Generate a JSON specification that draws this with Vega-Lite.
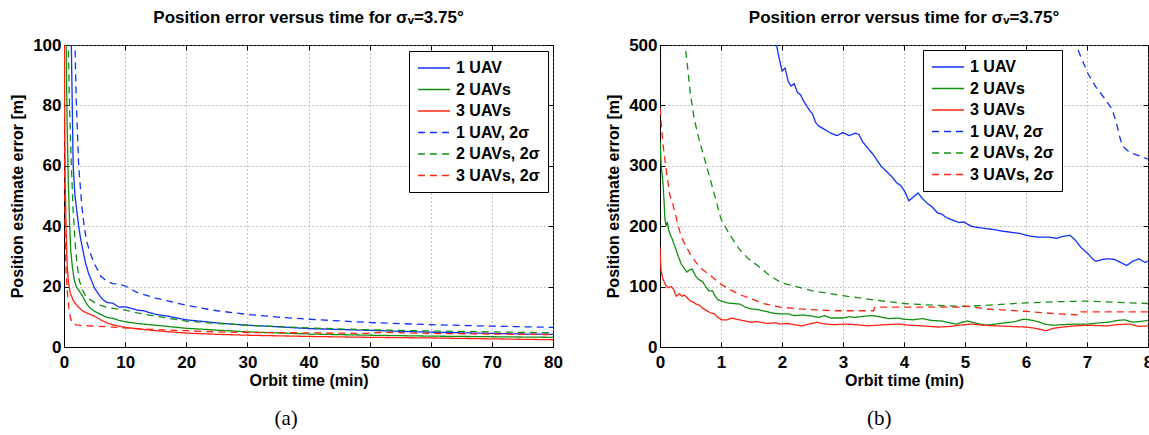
{
  "$schema": "https://vega.github.io/schema/vega-lite/v6.json",
  "background": "white",
  "padding": {"left": 9, "top": 8, "right": 0, "bottom": 0},
  "datasets": {
    "a": [
      {"series": "1 UAV", "t": 0.9, "e": 130}, {"series": "1 UAV", "t": 1.2, "e": 100}, {"series": "1 UAV", "t": 1.35, "e": 80}, {"series": "1 UAV", "t": 1.5, "e": 60}, {"series": "1 UAV", "t": 1.8, "e": 50}, {"series": "1 UAV", "t": 2.1, "e": 45}, {"series": "1 UAV", "t": 2.4, "e": 40}, {"series": "1 UAV", "t": 2.7, "e": 36}, {"series": "1 UAV", "t": 3.0, "e": 33}, {"series": "1 UAV", "t": 3.5, "e": 28}, {"series": "1 UAV", "t": 4.0, "e": 24.5}, {"series": "1 UAV", "t": 4.5, "e": 22}, {"series": "1 UAV", "t": 5.0, "e": 19.5}, {"series": "1 UAV", "t": 5.5, "e": 18}, {"series": "1 UAV", "t": 6, "e": 16.5}, {"series": "1 UAV", "t": 6.5, "e": 15.5}, {"series": "1 UAV", "t": 7, "e": 14.8}, {"series": "1 UAV", "t": 7.5, "e": 14.6}, {"series": "1 UAV", "t": 8, "e": 14.5}, {"series": "1 UAV", "t": 8.5, "e": 13.8}, {"series": "1 UAV", "t": 9, "e": 13.2}, {"series": "1 UAV", "t": 10, "e": 13.3}, {"series": "1 UAV", "t": 11, "e": 12.8}, {"series": "1 UAV", "t": 12, "e": 12.2}, {"series": "1 UAV", "t": 13, "e": 12}, {"series": "1 UAV", "t": 14, "e": 11.4}, {"series": "1 UAV", "t": 15, "e": 10.8}, {"series": "1 UAV", "t": 17, "e": 10.2}, {"series": "1 UAV", "t": 20, "e": 9.0}, {"series": "1 UAV", "t": 23, "e": 8.4}, {"series": "1 UAV", "t": 26, "e": 7.8}, {"series": "1 UAV", "t": 30, "e": 7.2}, {"series": "1 UAV", "t": 35, "e": 6.7}, {"series": "1 UAV", "t": 40, "e": 6.1}, {"series": "1 UAV", "t": 45, "e": 5.8}, {"series": "1 UAV", "t": 50, "e": 5.5}, {"series": "1 UAV", "t": 55, "e": 5.2}, {"series": "1 UAV", "t": 60, "e": 4.9}, {"series": "1 UAV", "t": 65, "e": 4.7}, {"series": "1 UAV", "t": 70, "e": 4.5}, {"series": "1 UAV", "t": 75, "e": 4.3}, {"series": "1 UAV", "t": 80, "e": 4.2},
      {"series": "2 UAVs", "t": 0.2, "e": 130}, {"series": "2 UAVs", "t": 0.35, "e": 100}, {"series": "2 UAVs", "t": 0.5, "e": 75}, {"series": "2 UAVs", "t": 0.7, "e": 55}, {"series": "2 UAVs", "t": 0.9, "e": 42}, {"series": "2 UAVs", "t": 1.1, "e": 32}, {"series": "2 UAVs", "t": 1.4, "e": 26}, {"series": "2 UAVs", "t": 1.7, "e": 22}, {"series": "2 UAVs", "t": 2.0, "e": 20}, {"series": "2 UAVs", "t": 2.5, "e": 18.5}, {"series": "2 UAVs", "t": 3, "e": 17}, {"series": "2 UAVs", "t": 3.5, "e": 15}, {"series": "2 UAVs", "t": 4, "e": 13.5}, {"series": "2 UAVs", "t": 4.5, "e": 12.5}, {"series": "2 UAVs", "t": 5, "e": 11.8}, {"series": "2 UAVs", "t": 6, "e": 10.8}, {"series": "2 UAVs", "t": 7, "e": 9.8}, {"series": "2 UAVs", "t": 8, "e": 9.5}, {"series": "2 UAVs", "t": 9, "e": 8.8}, {"series": "2 UAVs", "t": 10, "e": 8.4}, {"series": "2 UAVs", "t": 12, "e": 7.8}, {"series": "2 UAVs", "t": 15, "e": 7.2}, {"series": "2 UAVs", "t": 20, "e": 6.2}, {"series": "2 UAVs", "t": 25, "e": 5.6}, {"series": "2 UAVs", "t": 30, "e": 5.0}, {"series": "2 UAVs", "t": 40, "e": 4.3}, {"series": "2 UAVs", "t": 50, "e": 3.9}, {"series": "2 UAVs", "t": 60, "e": 3.6}, {"series": "2 UAVs", "t": 70, "e": 3.4}, {"series": "2 UAVs", "t": 80, "e": 3.2},
      {"series": "3 UAVs", "t": 0.0, "e": 130}, {"series": "3 UAVs", "t": 0.1, "e": 80}, {"series": "3 UAVs", "t": 0.2, "e": 55}, {"series": "3 UAVs", "t": 0.35, "e": 38}, {"series": "3 UAVs", "t": 0.5, "e": 28}, {"series": "3 UAVs", "t": 0.7, "e": 22}, {"series": "3 UAVs", "t": 1.0, "e": 18}, {"series": "3 UAVs", "t": 1.5, "e": 15.5}, {"series": "3 UAVs", "t": 2, "e": 14}, {"series": "3 UAVs", "t": 3, "e": 12}, {"series": "3 UAVs", "t": 4, "e": 11}, {"series": "3 UAVs", "t": 5, "e": 10.2}, {"series": "3 UAVs", "t": 6, "e": 9}, {"series": "3 UAVs", "t": 7, "e": 8}, {"series": "3 UAVs", "t": 8, "e": 7.3}, {"series": "3 UAVs", "t": 10, "e": 6.5}, {"series": "3 UAVs", "t": 12, "e": 6.0}, {"series": "3 UAVs", "t": 15, "e": 5.4}, {"series": "3 UAVs", "t": 20, "e": 4.6}, {"series": "3 UAVs", "t": 25, "e": 4.2}, {"series": "3 UAVs", "t": 30, "e": 3.9}, {"series": "3 UAVs", "t": 40, "e": 3.5}, {"series": "3 UAVs", "t": 50, "e": 3.2}, {"series": "3 UAVs", "t": 60, "e": 3.0}, {"series": "3 UAVs", "t": 70, "e": 2.7}, {"series": "3 UAVs", "t": 80, "e": 2.4},
      {"series": "1 UAV, 2σ", "t": 1.6, "e": 130}, {"series": "1 UAV, 2σ", "t": 1.8, "e": 100}, {"series": "1 UAV, 2σ", "t": 2.0, "e": 82}, {"series": "1 UAV, 2σ", "t": 2.4, "e": 60}, {"series": "1 UAV, 2σ", "t": 2.9, "e": 47}, {"series": "1 UAV, 2σ", "t": 3.3, "e": 40}, {"series": "1 UAV, 2σ", "t": 3.7, "e": 35}, {"series": "1 UAV, 2σ", "t": 4.0, "e": 33}, {"series": "1 UAV, 2σ", "t": 4.5, "e": 30}, {"series": "1 UAV, 2σ", "t": 5.0, "e": 27.5}, {"series": "1 UAV, 2σ", "t": 5.5, "e": 25.5}, {"series": "1 UAV, 2σ", "t": 6, "e": 23.5}, {"series": "1 UAV, 2σ", "t": 7, "e": 21.8}, {"series": "1 UAV, 2σ", "t": 8, "e": 21}, {"series": "1 UAV, 2σ", "t": 9, "e": 20.8}, {"series": "1 UAV, 2σ", "t": 10, "e": 20.2}, {"series": "1 UAV, 2σ", "t": 12, "e": 18}, {"series": "1 UAV, 2σ", "t": 15, "e": 16.2}, {"series": "1 UAV, 2σ", "t": 20, "e": 13.8}, {"series": "1 UAV, 2σ", "t": 25, "e": 12}, {"series": "1 UAV, 2σ", "t": 30, "e": 10.8}, {"series": "1 UAV, 2σ", "t": 35, "e": 9.9}, {"series": "1 UAV, 2σ", "t": 40, "e": 9.2}, {"series": "1 UAV, 2σ", "t": 50, "e": 8.1}, {"series": "1 UAV, 2σ", "t": 60, "e": 7.4}, {"series": "1 UAV, 2σ", "t": 70, "e": 6.9}, {"series": "1 UAV, 2σ", "t": 80, "e": 6.5},
      {"series": "2 UAVs, 2σ", "t": 0.5, "e": 130}, {"series": "2 UAVs, 2σ", "t": 0.7, "e": 100}, {"series": "2 UAVs, 2σ", "t": 0.9, "e": 80}, {"series": "2 UAVs, 2σ", "t": 1.2, "e": 60}, {"series": "2 UAVs, 2σ", "t": 1.5, "e": 45}, {"series": "2 UAVs, 2σ", "t": 1.8, "e": 35}, {"series": "2 UAVs, 2σ", "t": 2.1, "e": 28}, {"series": "2 UAVs, 2σ", "t": 2.5, "e": 22}, {"series": "2 UAVs, 2σ", "t": 3, "e": 19}, {"series": "2 UAVs, 2σ", "t": 3.5, "e": 17}, {"series": "2 UAVs, 2σ", "t": 4, "e": 16}, {"series": "2 UAVs, 2σ", "t": 5, "e": 14.8}, {"series": "2 UAVs, 2σ", "t": 6, "e": 13.8}, {"series": "2 UAVs, 2σ", "t": 7, "e": 13.2}, {"series": "2 UAVs, 2σ", "t": 8, "e": 12.8}, {"series": "2 UAVs, 2σ", "t": 10, "e": 12.2}, {"series": "2 UAVs, 2σ", "t": 12, "e": 11.3}, {"series": "2 UAVs, 2σ", "t": 15, "e": 10.2}, {"series": "2 UAVs, 2σ", "t": 20, "e": 8.6}, {"series": "2 UAVs, 2σ", "t": 25, "e": 7.8}, {"series": "2 UAVs, 2σ", "t": 30, "e": 7.2}, {"series": "2 UAVs, 2σ", "t": 40, "e": 6.3}, {"series": "2 UAVs, 2σ", "t": 50, "e": 5.7}, {"series": "2 UAVs, 2σ", "t": 60, "e": 5.3}, {"series": "2 UAVs, 2σ", "t": 70, "e": 5.0}, {"series": "2 UAVs, 2σ", "t": 80, "e": 4.7},
      {"series": "3 UAVs, 2σ", "t": 0.0, "e": 130}, {"series": "3 UAVs, 2σ", "t": 0.08, "e": 60}, {"series": "3 UAVs, 2σ", "t": 0.2, "e": 35}, {"series": "3 UAVs, 2σ", "t": 0.35, "e": 25}, {"series": "3 UAVs, 2σ", "t": 0.6, "e": 17}, {"series": "3 UAVs, 2σ", "t": 0.9, "e": 11}, {"series": "3 UAVs, 2σ", "t": 1.3, "e": 8}, {"series": "3 UAVs, 2σ", "t": 2, "e": 7.3}, {"series": "3 UAVs, 2σ", "t": 3, "e": 7.1}, {"series": "3 UAVs, 2σ", "t": 5, "e": 6.9}, {"series": "3 UAVs, 2σ", "t": 8, "e": 6.6}, {"series": "3 UAVs, 2σ", "t": 10, "e": 6.3}, {"series": "3 UAVs, 2σ", "t": 15, "e": 5.8}, {"series": "3 UAVs, 2σ", "t": 20, "e": 5.4}, {"series": "3 UAVs, 2σ", "t": 25, "e": 5.0}, {"series": "3 UAVs, 2σ", "t": 30, "e": 4.8}, {"series": "3 UAVs, 2σ", "t": 40, "e": 4.7}, {"series": "3 UAVs, 2σ", "t": 50, "e": 4.5}, {"series": "3 UAVs, 2σ", "t": 52, "e": 4.9}, {"series": "3 UAVs, 2σ", "t": 60, "e": 4.5}, {"series": "3 UAVs, 2σ", "t": 70, "e": 4.3}, {"series": "3 UAVs, 2σ", "t": 80, "e": 4.1}
    ],
    "b": [
      {"series": "1 UAV", "t": 1.9, "e": 505}, {"series": "1 UAV", "t": 1.95, "e": 480}, {"series": "1 UAV", "t": 2.0, "e": 457}, {"series": "1 UAV", "t": 2.05, "e": 462}, {"series": "1 UAV", "t": 2.1, "e": 440}, {"series": "1 UAV", "t": 2.15, "e": 432}, {"series": "1 UAV", "t": 2.2, "e": 436}, {"series": "1 UAV", "t": 2.25, "e": 422}, {"series": "1 UAV", "t": 2.3, "e": 418}, {"series": "1 UAV", "t": 2.35, "e": 408}, {"series": "1 UAV", "t": 2.4, "e": 400}, {"series": "1 UAV", "t": 2.45, "e": 392}, {"series": "1 UAV", "t": 2.5, "e": 386}, {"series": "1 UAV", "t": 2.55, "e": 372}, {"series": "1 UAV", "t": 2.6, "e": 366}, {"series": "1 UAV", "t": 2.7, "e": 360}, {"series": "1 UAV", "t": 2.8, "e": 354}, {"series": "1 UAV", "t": 2.9, "e": 350}, {"series": "1 UAV", "t": 3.0, "e": 355}, {"series": "1 UAV", "t": 3.1, "e": 350}, {"series": "1 UAV", "t": 3.2, "e": 354}, {"series": "1 UAV", "t": 3.26, "e": 352}, {"series": "1 UAV", "t": 3.32, "e": 340}, {"series": "1 UAV", "t": 3.4, "e": 330}, {"series": "1 UAV", "t": 3.5, "e": 318}, {"series": "1 UAV", "t": 3.62, "e": 300}, {"series": "1 UAV", "t": 3.7, "e": 292}, {"series": "1 UAV", "t": 3.8, "e": 282}, {"series": "1 UAV", "t": 3.88, "e": 272}, {"series": "1 UAV", "t": 3.95, "e": 267}, {"series": "1 UAV", "t": 4.02, "e": 256}, {"series": "1 UAV", "t": 4.08, "e": 242}, {"series": "1 UAV", "t": 4.15, "e": 248}, {"series": "1 UAV", "t": 4.23, "e": 255}, {"series": "1 UAV", "t": 4.3, "e": 246}, {"series": "1 UAV", "t": 4.38, "e": 238}, {"series": "1 UAV", "t": 4.46, "e": 232}, {"series": "1 UAV", "t": 4.55, "e": 222}, {"series": "1 UAV", "t": 4.62, "e": 220}, {"series": "1 UAV", "t": 4.7, "e": 214}, {"series": "1 UAV", "t": 4.8, "e": 210}, {"series": "1 UAV", "t": 4.9, "e": 206}, {"series": "1 UAV", "t": 4.98, "e": 207}, {"series": "1 UAV", "t": 5.1, "e": 200}, {"series": "1 UAV", "t": 5.2, "e": 198}, {"series": "1 UAV", "t": 5.35, "e": 196}, {"series": "1 UAV", "t": 5.5, "e": 194}, {"series": "1 UAV", "t": 5.6, "e": 192}, {"series": "1 UAV", "t": 5.75, "e": 190}, {"series": "1 UAV", "t": 5.9, "e": 188}, {"series": "1 UAV", "t": 6.0, "e": 185}, {"series": "1 UAV", "t": 6.1, "e": 183}, {"series": "1 UAV", "t": 6.2, "e": 182}, {"series": "1 UAV", "t": 6.36, "e": 182}, {"series": "1 UAV", "t": 6.5, "e": 180}, {"series": "1 UAV", "t": 6.6, "e": 183}, {"series": "1 UAV", "t": 6.72, "e": 185}, {"series": "1 UAV", "t": 6.8, "e": 178}, {"series": "1 UAV", "t": 6.9, "e": 165}, {"series": "1 UAV", "t": 7.02, "e": 154}, {"series": "1 UAV", "t": 7.1, "e": 145}, {"series": "1 UAV", "t": 7.15, "e": 142}, {"series": "1 UAV", "t": 7.25, "e": 145}, {"series": "1 UAV", "t": 7.35, "e": 146}, {"series": "1 UAV", "t": 7.45, "e": 145}, {"series": "1 UAV", "t": 7.55, "e": 140}, {"series": "1 UAV", "t": 7.65, "e": 135}, {"series": "1 UAV", "t": 7.75, "e": 142}, {"series": "1 UAV", "t": 7.85, "e": 146}, {"series": "1 UAV", "t": 7.95, "e": 140}, {"series": "1 UAV", "t": 8.0, "e": 142},
      {"series": "2 UAVs", "t": 0.0, "e": 340}, {"series": "2 UAVs", "t": 0.02, "e": 300}, {"series": "2 UAVs", "t": 0.04, "e": 280}, {"series": "2 UAVs", "t": 0.05, "e": 270}, {"series": "2 UAVs", "t": 0.07, "e": 235}, {"series": "2 UAVs", "t": 0.08, "e": 212}, {"series": "2 UAVs", "t": 0.1, "e": 200}, {"series": "2 UAVs", "t": 0.12, "e": 207}, {"series": "2 UAVs", "t": 0.14, "e": 195}, {"series": "2 UAVs", "t": 0.17, "e": 185}, {"series": "2 UAVs", "t": 0.2, "e": 179}, {"series": "2 UAVs", "t": 0.23, "e": 170}, {"series": "2 UAVs", "t": 0.26, "e": 162}, {"series": "2 UAVs", "t": 0.3, "e": 150}, {"series": "2 UAVs", "t": 0.35, "e": 137}, {"series": "2 UAVs", "t": 0.4, "e": 130}, {"series": "2 UAVs", "t": 0.44, "e": 124}, {"series": "2 UAVs", "t": 0.49, "e": 128}, {"series": "2 UAVs", "t": 0.53, "e": 129}, {"series": "2 UAVs", "t": 0.58, "e": 118}, {"series": "2 UAVs", "t": 0.63, "e": 112}, {"series": "2 UAVs", "t": 0.7, "e": 108}, {"series": "2 UAVs", "t": 0.75, "e": 100}, {"series": "2 UAVs", "t": 0.8, "e": 93}, {"series": "2 UAVs", "t": 0.86, "e": 93}, {"series": "2 UAVs", "t": 0.9, "e": 85}, {"series": "2 UAVs", "t": 0.95, "e": 78}, {"series": "2 UAVs", "t": 1.01, "e": 76}, {"series": "2 UAVs", "t": 1.1, "e": 73}, {"series": "2 UAVs", "t": 1.2, "e": 72}, {"series": "2 UAVs", "t": 1.31, "e": 71}, {"series": "2 UAVs", "t": 1.4, "e": 66}, {"series": "2 UAVs", "t": 1.5, "e": 63}, {"series": "2 UAVs", "t": 1.6, "e": 62}, {"series": "2 UAVs", "t": 1.73, "e": 59}, {"series": "2 UAVs", "t": 1.85, "e": 56}, {"series": "2 UAVs", "t": 1.97, "e": 55}, {"series": "2 UAVs", "t": 2.1, "e": 55}, {"series": "2 UAVs", "t": 2.2, "e": 52}, {"series": "2 UAVs", "t": 2.35, "e": 53}, {"series": "2 UAVs", "t": 2.5, "e": 51}, {"series": "2 UAVs", "t": 2.6, "e": 49}, {"series": "2 UAVs", "t": 2.7, "e": 52}, {"series": "2 UAVs", "t": 2.8, "e": 48}, {"series": "2 UAVs", "t": 3.0, "e": 48}, {"series": "2 UAVs", "t": 3.1, "e": 50}, {"series": "2 UAVs", "t": 3.2, "e": 49}, {"series": "2 UAVs", "t": 3.35, "e": 51}, {"series": "2 UAVs", "t": 3.48, "e": 52}, {"series": "2 UAVs", "t": 3.6, "e": 50}, {"series": "2 UAVs", "t": 3.75, "e": 47}, {"series": "2 UAVs", "t": 3.9, "e": 48}, {"series": "2 UAVs", "t": 4.0, "e": 46}, {"series": "2 UAVs", "t": 4.15, "e": 45}, {"series": "2 UAVs", "t": 4.3, "e": 47}, {"series": "2 UAVs", "t": 4.45, "e": 44}, {"series": "2 UAVs", "t": 4.62, "e": 43}, {"series": "2 UAVs", "t": 4.75, "e": 40}, {"series": "2 UAVs", "t": 4.86, "e": 38}, {"series": "2 UAVs", "t": 4.95, "e": 41}, {"series": "2 UAVs", "t": 5.04, "e": 43}, {"series": "2 UAVs", "t": 5.15, "e": 40}, {"series": "2 UAVs", "t": 5.25, "e": 38}, {"series": "2 UAVs", "t": 5.35, "e": 36}, {"series": "2 UAVs", "t": 5.5, "e": 38}, {"series": "2 UAVs", "t": 5.65, "e": 40}, {"series": "2 UAVs", "t": 5.82, "e": 42}, {"series": "2 UAVs", "t": 5.95, "e": 46}, {"series": "2 UAVs", "t": 6.06, "e": 45}, {"series": "2 UAVs", "t": 6.2, "e": 42}, {"series": "2 UAVs", "t": 6.3, "e": 38}, {"series": "2 UAVs", "t": 6.43, "e": 36}, {"series": "2 UAVs", "t": 6.6, "e": 37}, {"series": "2 UAVs", "t": 6.8, "e": 38}, {"series": "2 UAVs", "t": 7.02, "e": 38}, {"series": "2 UAVs", "t": 7.2, "e": 40}, {"series": "2 UAVs", "t": 7.35, "e": 41}, {"series": "2 UAVs", "t": 7.5, "e": 44}, {"series": "2 UAVs", "t": 7.62, "e": 45}, {"series": "2 UAVs", "t": 7.74, "e": 41}, {"series": "2 UAVs", "t": 7.85, "e": 42}, {"series": "2 UAVs", "t": 8.0, "e": 44},
      {"series": "3 UAVs", "t": 0.0, "e": 165}, {"series": "3 UAVs", "t": 0.01, "e": 140}, {"series": "3 UAVs", "t": 0.02, "e": 124}, {"series": "3 UAVs", "t": 0.05, "e": 112}, {"series": "3 UAVs", "t": 0.1, "e": 101}, {"series": "3 UAVs", "t": 0.14, "e": 98}, {"series": "3 UAVs", "t": 0.18, "e": 100}, {"series": "3 UAVs", "t": 0.22, "e": 96}, {"series": "3 UAVs", "t": 0.25, "e": 88}, {"series": "3 UAVs", "t": 0.27, "e": 84}, {"series": "3 UAVs", "t": 0.3, "e": 87}, {"series": "3 UAVs", "t": 0.32, "e": 88}, {"series": "3 UAVs", "t": 0.36, "e": 84}, {"series": "3 UAVs", "t": 0.4, "e": 86}, {"series": "3 UAVs", "t": 0.44, "e": 82}, {"series": "3 UAVs", "t": 0.5, "e": 76}, {"series": "3 UAVs", "t": 0.55, "e": 74}, {"series": "3 UAVs", "t": 0.59, "e": 71}, {"series": "3 UAVs", "t": 0.65, "e": 69}, {"series": "3 UAVs", "t": 0.7, "e": 64}, {"series": "3 UAVs", "t": 0.77, "e": 60}, {"series": "3 UAVs", "t": 0.82, "e": 57}, {"series": "3 UAVs", "t": 0.89, "e": 55}, {"series": "3 UAVs", "t": 0.95, "e": 49}, {"series": "3 UAVs", "t": 1.01, "e": 45}, {"series": "3 UAVs", "t": 1.1, "e": 45}, {"series": "3 UAVs", "t": 1.18, "e": 48}, {"series": "3 UAVs", "t": 1.25, "e": 46}, {"series": "3 UAVs", "t": 1.35, "e": 44}, {"series": "3 UAVs", "t": 1.49, "e": 41}, {"series": "3 UAVs", "t": 1.6, "e": 42}, {"series": "3 UAVs", "t": 1.75, "e": 39}, {"series": "3 UAVs", "t": 1.9, "e": 40}, {"series": "3 UAVs", "t": 1.97, "e": 38}, {"series": "3 UAVs", "t": 2.1, "e": 39}, {"series": "3 UAVs", "t": 2.2, "e": 37}, {"series": "3 UAVs", "t": 2.33, "e": 35}, {"series": "3 UAVs", "t": 2.45, "e": 38}, {"series": "3 UAVs", "t": 2.57, "e": 41}, {"series": "3 UAVs", "t": 2.7, "e": 38}, {"series": "3 UAVs", "t": 2.85, "e": 37}, {"series": "3 UAVs", "t": 3.05, "e": 38}, {"series": "3 UAVs", "t": 3.2, "e": 37}, {"series": "3 UAVs", "t": 3.41, "e": 35}, {"series": "3 UAVs", "t": 3.55, "e": 36}, {"series": "3 UAVs", "t": 3.7, "e": 37}, {"series": "3 UAVs", "t": 3.9, "e": 38}, {"series": "3 UAVs", "t": 4.1, "e": 36}, {"series": "3 UAVs", "t": 4.3, "e": 35}, {"series": "3 UAVs", "t": 4.56, "e": 33}, {"series": "3 UAVs", "t": 4.75, "e": 34}, {"series": "3 UAVs", "t": 4.9, "e": 36}, {"series": "3 UAVs", "t": 5.1, "e": 38}, {"series": "3 UAVs", "t": 5.3, "e": 36}, {"series": "3 UAVs", "t": 5.52, "e": 35}, {"series": "3 UAVs", "t": 5.75, "e": 34}, {"series": "3 UAVs", "t": 6.0, "e": 33}, {"series": "3 UAVs", "t": 6.15, "e": 31}, {"series": "3 UAVs", "t": 6.33, "e": 27}, {"series": "3 UAVs", "t": 6.45, "e": 31}, {"series": "3 UAVs", "t": 6.6, "e": 33}, {"series": "3 UAVs", "t": 6.8, "e": 35}, {"series": "3 UAVs", "t": 7.0, "e": 36}, {"series": "3 UAVs", "t": 7.33, "e": 35}, {"series": "3 UAVs", "t": 7.5, "e": 37}, {"series": "3 UAVs", "t": 7.7, "e": 38}, {"series": "3 UAVs", "t": 7.85, "e": 34}, {"series": "3 UAVs", "t": 8.0, "e": 35},
      {"series": "1 UAV, 2σ", "t": 6.78, "e": 510}, {"series": "1 UAV, 2σ", "t": 6.9, "e": 480}, {"series": "1 UAV, 2σ", "t": 7.02, "e": 452}, {"series": "1 UAV, 2σ", "t": 7.15, "e": 430}, {"series": "1 UAV, 2σ", "t": 7.3, "e": 410}, {"series": "1 UAV, 2σ", "t": 7.41, "e": 394}, {"series": "1 UAV, 2σ", "t": 7.48, "e": 372}, {"series": "1 UAV, 2σ", "t": 7.53, "e": 350}, {"series": "1 UAV, 2σ", "t": 7.58, "e": 333}, {"series": "1 UAV, 2σ", "t": 7.7, "e": 322}, {"series": "1 UAV, 2σ", "t": 7.87, "e": 316}, {"series": "1 UAV, 2σ", "t": 8.0, "e": 311},
      {"series": "2 UAVs, 2σ", "t": 0.40, "e": 510}, {"series": "2 UAVs, 2σ", "t": 0.45, "e": 465}, {"series": "2 UAVs, 2σ", "t": 0.5, "e": 418}, {"series": "2 UAVs, 2σ", "t": 0.56, "e": 378}, {"series": "2 UAVs, 2σ", "t": 0.63, "e": 348}, {"series": "2 UAVs, 2σ", "t": 0.7, "e": 322}, {"series": "2 UAVs, 2σ", "t": 0.85, "e": 268}, {"series": "2 UAVs, 2σ", "t": 1.0, "e": 212}, {"series": "2 UAVs, 2σ", "t": 1.13, "e": 188}, {"series": "2 UAVs, 2σ", "t": 1.3, "e": 162}, {"series": "2 UAVs, 2σ", "t": 1.45, "e": 146}, {"series": "2 UAVs, 2σ", "t": 1.61, "e": 134}, {"series": "2 UAVs, 2σ", "t": 1.8, "e": 118}, {"series": "2 UAVs, 2σ", "t": 2.0, "e": 106}, {"series": "2 UAVs, 2σ", "t": 2.5, "e": 93}, {"series": "2 UAVs, 2σ", "t": 3.0, "e": 85}, {"series": "2 UAVs, 2σ", "t": 3.5, "e": 78}, {"series": "2 UAVs, 2σ", "t": 4.0, "e": 72}, {"series": "2 UAVs, 2σ", "t": 4.5, "e": 69}, {"series": "2 UAVs, 2σ", "t": 5.0, "e": 67}, {"series": "2 UAVs, 2σ", "t": 5.5, "e": 70}, {"series": "2 UAVs, 2σ", "t": 6.0, "e": 73}, {"series": "2 UAVs, 2σ", "t": 6.5, "e": 75}, {"series": "2 UAVs, 2σ", "t": 7.0, "e": 76}, {"series": "2 UAVs, 2σ", "t": 7.5, "e": 74}, {"series": "2 UAVs, 2σ", "t": 8.0, "e": 72},
      {"series": "3 UAVs, 2σ", "t": 0.0, "e": 395}, {"series": "3 UAVs, 2σ", "t": 0.02, "e": 370}, {"series": "3 UAVs, 2σ", "t": 0.05, "e": 335}, {"series": "3 UAVs, 2σ", "t": 0.08, "e": 310}, {"series": "3 UAVs, 2σ", "t": 0.12, "e": 280}, {"series": "3 UAVs, 2σ", "t": 0.16, "e": 252}, {"series": "3 UAVs, 2σ", "t": 0.2, "e": 240}, {"series": "3 UAVs, 2σ", "t": 0.26, "e": 217}, {"series": "3 UAVs, 2σ", "t": 0.3, "e": 200}, {"series": "3 UAVs, 2σ", "t": 0.35, "e": 182}, {"series": "3 UAVs, 2σ", "t": 0.4, "e": 172}, {"series": "3 UAVs, 2σ", "t": 0.5, "e": 153}, {"series": "3 UAVs, 2σ", "t": 0.59, "e": 140}, {"series": "3 UAVs, 2σ", "t": 0.7, "e": 128}, {"series": "3 UAVs, 2σ", "t": 0.83, "e": 118}, {"series": "3 UAVs, 2σ", "t": 1.0, "e": 104}, {"series": "3 UAVs, 2σ", "t": 1.13, "e": 96}, {"series": "3 UAVs, 2σ", "t": 1.3, "e": 87}, {"series": "3 UAVs, 2σ", "t": 1.49, "e": 80}, {"series": "3 UAVs, 2σ", "t": 1.7, "e": 72}, {"series": "3 UAVs, 2σ", "t": 1.97, "e": 66}, {"series": "3 UAVs, 2σ", "t": 2.3, "e": 63}, {"series": "3 UAVs, 2σ", "t": 2.82, "e": 60}, {"series": "3 UAVs, 2σ", "t": 3.2, "e": 60}, {"series": "3 UAVs, 2σ", "t": 3.5, "e": 60}, {"series": "3 UAVs, 2σ", "t": 3.52, "e": 66}, {"series": "3 UAVs, 2σ", "t": 4.0, "e": 66}, {"series": "3 UAVs, 2σ", "t": 4.62, "e": 66}, {"series": "3 UAVs, 2σ", "t": 4.9, "e": 66}, {"series": "3 UAVs, 2σ", "t": 4.92, "e": 69}, {"series": "3 UAVs, 2σ", "t": 5.35, "e": 63}, {"series": "3 UAVs, 2σ", "t": 5.7, "e": 61}, {"series": "3 UAVs, 2σ", "t": 6.12, "e": 58}, {"series": "3 UAVs, 2σ", "t": 6.5, "e": 55}, {"series": "3 UAVs, 2σ", "t": 6.88, "e": 53}, {"series": "3 UAVs, 2σ", "t": 6.9, "e": 58}, {"series": "3 UAVs, 2σ", "t": 7.4, "e": 58}, {"series": "3 UAVs, 2σ", "t": 8.0, "e": 58}
    ]
  },
  "hconcat": [
    {
      "title": {"text": "(a)", "orient": "bottom", "anchor": "middle", "frame": "bounds", "font": "Liberation Serif", "fontSize": 21, "fontWeight": "normal", "color": "black", "offset": 19},
      "vconcat": [
        {
          "width": 489,
          "height": 302,
          "title": {"text": "Position error versus time for σᵥ=3.75°", "anchor": "middle", "frame": "group", "offset": 9, "fontSize": 17, "fontWeight": "bold", "font": "Liberation Sans", "color": "black"},
          "layer": [
            {
              "data": {"name": "a"},
              "mark": {"type": "line", "clip": true, "strokeWidth": 1.3},
              "encoding": {
                "x": {"field": "t", "type": "quantitative", "scale": {"domain": [0, 80], "nice": false}, "axis": {"values": [0, 10, 20, 30, 40, 50, 60, 70, 80], "title": "Orbit time (min)"}},
                "y": {"field": "e", "type": "quantitative", "scale": {"domain": [0, 100], "nice": false}, "axis": {"values": [0, 20, 40, 60, 80, 100], "title": "Position estimate error [m]"}},
                "color": {"field": "series", "type": "nominal", "scale": {"domain": ["1 UAV", "2 UAVs", "3 UAVs", "1 UAV, 2σ", "2 UAVs, 2σ", "3 UAVs, 2σ"], "range": ["#1030ff", "#138f13", "#ff2412", "#1030ff", "#138f13", "#ff2412"]}, "legend": {"orient": "none", "legendX": 345, "legendY": 6, "title": null}},
                "strokeDash": {"field": "series", "type": "nominal", "scale": {"domain": ["1 UAV", "2 UAVs", "3 UAVs", "1 UAV, 2σ", "2 UAVs, 2σ", "3 UAVs, 2σ"], "range": [[1, 0], [1, 0], [1, 0], [7, 5], [7, 5], [7, 5]]}, "legend": {"orient": "none", "legendX": 345, "legendY": 6, "title": null}}
              }
            },
            {
              "data": {"values": [{"t": 0, "e": 0}]},
              "mark": {"type": "point", "opacity": 0},
              "encoding": {
                "x": {"field": "t", "type": "quantitative", "scale": {"domain": [0, 80], "nice": false}, "axis": {"orient": "top", "values": [0, 10, 20, 30, 40, 50, 60, 70, 80], "labels": false, "title": null, "grid": false, "domain": false}},
                "y": {"field": "e", "type": "quantitative", "scale": {"domain": [0, 100], "nice": false}, "axis": {"orient": "right", "values": [0, 20, 40, 60, 80, 100], "labels": false, "title": null, "grid": false, "domain": false}}
              }
            }
          ],
          "resolve": {"axis": {"x": "independent", "y": "independent"}}
        }
      ]
    },
    {
      "title": {"text": "(b)", "orient": "bottom", "anchor": "middle", "frame": "bounds", "font": "Liberation Serif", "fontSize": 21, "fontWeight": "normal", "color": "black", "offset": 19},
      "vconcat": [
        {
          "width": 488,
          "height": 302,
          "title": {"text": "Position error versus time for σᵥ=3.75°", "anchor": "middle", "frame": "group", "offset": 9, "fontSize": 17, "fontWeight": "bold", "font": "Liberation Sans", "color": "black"},
          "layer": [
            {
              "data": {"name": "b"},
              "mark": {"type": "line", "clip": true, "strokeWidth": 1.3},
              "encoding": {
                "x": {"field": "t", "type": "quantitative", "scale": {"domain": [0, 8], "nice": false}, "axis": {"values": [0, 1, 2, 3, 4, 5, 6, 7, 8], "title": "Orbit time (min)"}},
                "y": {"field": "e", "type": "quantitative", "scale": {"domain": [0, 500], "nice": false}, "axis": {"values": [0, 100, 200, 300, 400, 500], "title": "Position estimate error [m]"}},
                "color": {"field": "series", "type": "nominal", "scale": {"domain": ["1 UAV", "2 UAVs", "3 UAVs", "1 UAV, 2σ", "2 UAVs, 2σ", "3 UAVs, 2σ"], "range": ["#1030ff", "#138f13", "#ff2412", "#1030ff", "#138f13", "#ff2412"]}, "legend": {"orient": "none", "legendX": 263, "legendY": 5, "title": null}},
                "strokeDash": {"field": "series", "type": "nominal", "scale": {"domain": ["1 UAV", "2 UAVs", "3 UAVs", "1 UAV, 2σ", "2 UAVs, 2σ", "3 UAVs, 2σ"], "range": [[1, 0], [1, 0], [1, 0], [7, 5], [7, 5], [7, 5]]}, "legend": {"orient": "none", "legendX": 263, "legendY": 5, "title": null}}
              }
            },
            {
              "data": {"values": [{"t": 0, "e": 0}]},
              "mark": {"type": "point", "opacity": 0},
              "encoding": {
                "x": {"field": "t", "type": "quantitative", "scale": {"domain": [0, 8], "nice": false}, "axis": {"orient": "top", "values": [0, 1, 2, 3, 4, 5, 6, 7, 8], "labels": false, "title": null, "grid": false, "domain": false}},
                "y": {"field": "e", "type": "quantitative", "scale": {"domain": [0, 500], "nice": false}, "axis": {"orient": "right", "values": [0, 100, 200, 300, 400, 500], "labels": false, "title": null, "grid": false, "domain": false}}
              }
            }
          ],
          "resolve": {"axis": {"x": "independent", "y": "independent"}}
        }
      ]
    }
  ],
  "spacing": 42,
  "resolve": {"scale": {"color": "independent", "strokeDash": "independent"}, "legend": {"color": "independent", "strokeDash": "independent"}},
  "config": {
    "font": "Liberation Sans",
    "view": {"stroke": "black", "strokeWidth": 1},
    "title": {"font": "Liberation Sans", "fontSize": 17, "fontWeight": "bold", "color": "black"},
    "axis": {
      "labelFont": "Liberation Sans", "labelFontSize": 17, "labelFontWeight": "bold", "labelColor": "black",
      "titleFont": "Liberation Sans", "titleFontSize": 16, "titleFontWeight": "bold", "titleColor": "black",
      "domainColor": "black", "domainWidth": 1, "tickColor": "black", "tickSize": -5, "tickWidth": 1,
      "gridColor": "#8a8a8a", "gridDash": [1, 3], "gridWidth": 1, "gridOpacity": 1,
      "labelFlush": false, "labelOverlap": false
    },
    "axisX": {"labelPadding": 12, "titlePadding": 2},
    "axisY": {"labelPadding": 8, "titlePadding": 7},
    "legend": {
      "labelFont": "Liberation Sans", "labelFontSize": 16, "labelFontWeight": "bold", "labelColor": "black",
      "symbolType": "M-1,0H3", "symbolSize": 256, "symbolStrokeWidth": 1.5,
      "fillColor": "white", "strokeColor": "black", "padding": 8, "rowPadding": 4.5, "labelOffset": 21
    }
  }
}
